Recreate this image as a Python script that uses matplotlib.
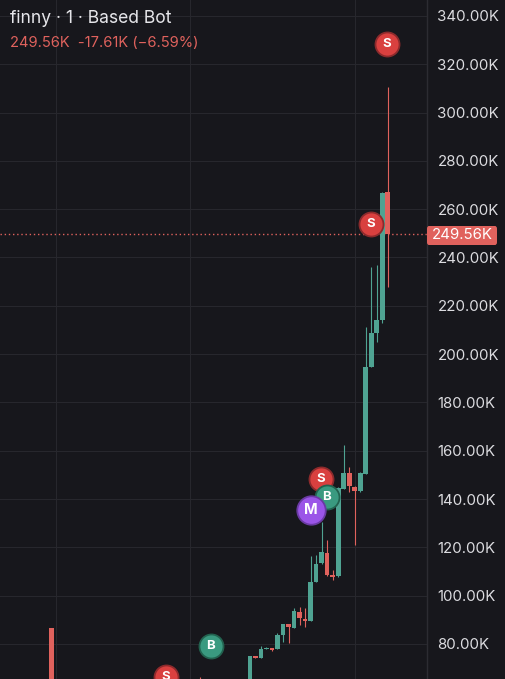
import matplotlib.pyplot as plt
import numpy as np
from matplotlib.patches import FancyBboxPatch

# candle data (thousands), index = minute position
idx = [-36, -9] + list(range(26))
opens = [86.6, 64.0,
         60.0, 75.0, 74.2, 78.0, 78.3, 77.9, 83.7, 88.2, 86.6, 93.2, 90.3, 89.5, 105.6,
         113.5, 117.6, 108.5, 108.1, 144.1, 150.8, 145.0, 143.3, 150.4, 194.7, 208.7, 214.1, 267.17]
closes = [50.0, 60.0,
          75.0, 74.4, 77.9, 78.4, 77.4, 83.7, 88.2, 87.0, 93.6, 90.7, 89.5, 105.6, 113.1,
          118.1, 108.5, 107.7, 144.6, 150.8, 145.4, 143.3, 150.8, 194.7, 208.7, 214.1, 266.7, 249.56]
highs = [86.6, 66.3,
         75.0, 75.2, 79.1, 78.8, 78.3, 84.5, 88.2, 88.4, 94.9, 95.3, 94.9, 116.4, 116.8,
         130.5, 123.0, 110.6, 145.0, 162.4, 153.3, 145.2, 151.0, 211.2, 236.1, 236.9, 267.2, 310.6]
lows = [50.0, 60.0,
        60.0, 74.2, 74.2, 77.8, 77.0, 77.9, 80.8, 80.4, 86.6, 87.9, 87.0, 89.5, 105.6,
        113.0, 108.0, 106.5, 107.7, 144.1, 142.9, 121.0, 143.0, 150.4, 194.7, 205.0, 213.0, 227.8]

# trade markers: (x, price, letter)
mark_x = [24.8, 21.9, 12.9, 13.9, 11.05, -7.07, -15.2]
mark_y = [328.4, 253.9, 148.3, 140.8, 135.4, 79.1, 66.3]
mark_txt = ['S', 'S', 'S', 'B', 'M', 'B', 'S']

last_price = 249.56
y_ticks = list(range(80, 341, 20))

bg = '#17171c'
grid_c = '#27272d'
up_c = '#4fa392'
down_c = '#e0625d'
txt_c = '#dcdce0'
mark_fill = {'S': '#d9403f', 'B': '#3a9a80', 'M': '#9b55e8'}
mark_edge = {'S': '#8c2a2c', 'B': '#22624f', 'M': '#6a3aa3'}

plt.rcParams['font.family'] = ['Inter', 'DejaVu Sans']

fig = plt.figure(figsize=(5.05, 6.79), dpi=100)
fig.patch.set_facecolor(bg)
ax = fig.add_axes([0, 0, 427 / 505, 1])
ax.set_facecolor(bg)
ax.set_xlim(-45.3, 32.1)
ax.set_ylim(65.5, 346.6)

for s in ax.spines.values():
    s.set_visible(False)
ax.spines['right'].set_visible(True)
ax.spines['right'].set_color('#2c2c32')
ax.spines['right'].set_linewidth(1)

ax.set_xticks([])
ax.yaxis.tick_right()
ax.set_yticks(y_ticks)
ax.set_yticklabels([f'{v:.2f}K' for v in y_ticks])
ax.tick_params(axis='y', length=0, pad=7.5, labelsize=10.8, labelcolor=txt_c)
for v in y_ticks:
    ax.axhline(v, color=grid_c, lw=0.8, zorder=0)
for v in [-35.1, -10.9, 19]:
    ax.axvline(v, color=grid_c, lw=0.8, zorder=0)

# candles
for x, o, c, h, l in zip(idx, opens, closes, highs, lows):
    col = up_c if c >= o else down_c
    ax.vlines(x, l, h, color=col, lw=0.8, zorder=2)
    lo, hi = min(o, c), max(o, c)
    if hi - lo < 0.5:
        hi = lo + 0.5
    ax.bar(x, hi - lo, bottom=lo, width=0.85, color=col, edgecolor='none', zorder=3)

# current price line
ax.axhline(last_price, color=down_c, lw=1, linestyle=(0, (1, 2)), zorder=1)

# markers
for x, y, t in zip(mark_x, mark_y, mark_txt):
    sz = 420 if t == 'M' else 300
    ax.scatter([x], [y], s=sz, color=mark_fill[t], edgecolor=mark_edge[t],
               linewidth=1.3, zorder=5)
    ax.text(x, y, t, color='white', fontsize=9.5 if t != 'M' else 10.5,
            fontweight='bold', ha='center', va='center', zorder=6)

# header
fig.text(10 / 505, 1 - 23 / 679, 'finny · 1 · Based Bot', color='#e6e6ea',
         fontsize=12.6, va='baseline', ha='left')
fig.text(10 / 505, 1 - 47 / 679, '249.56K  -17.61K (−6.59%)', color=down_c,
         fontsize=10.6, va='baseline', ha='left')

# price label box
box = FancyBboxPatch((427 / 505, 1 - 245 / 679), 70 / 505, 19 / 679,
                     boxstyle='round,pad=0,rounding_size=0.004',
                     transform=fig.transFigure, facecolor=down_c, edgecolor='none')
fig.patches.append(box)
fig.text(462 / 505, 1 - 235 / 679, f'{last_price:.2f}K', color='white',
         fontsize=10.8, ha='center', va='center')

fig.savefig('out.png', dpi=100, facecolor=bg)
